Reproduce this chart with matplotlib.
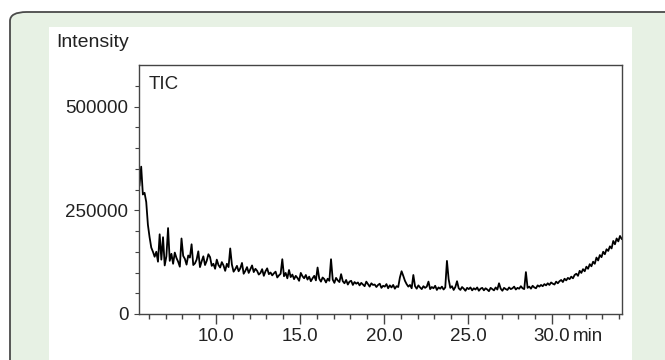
import numpy as np
import matplotlib
matplotlib.use("Agg")
import matplotlib.pyplot as plt
from matplotlib.patches import FancyBboxPatch, Rectangle

plt.rcParams['font.family'] = ['Liberation Sans', 'DejaVu Sans']

# scan times (min): one scan every 0.1 min starting at 5.45
t_start = 5.45
t_step = 0.1

# TIC intensity, in thousands, 10 scans per row
tic_k = [
    310, 355, 288, 292, 270, 215, 185, 160, 150, 138,
    150, 126, 192, 131, 185, 117, 139, 207, 128, 145,
    121, 148, 135, 126, 114, 182, 140, 133, 119, 141,
    136, 168, 118, 122, 131, 151, 113, 127, 139, 118,
    128, 144, 137, 116, 121, 109, 131, 118, 112, 125,
    117, 104, 121, 113, 158, 119, 102, 108, 116, 103,
    110, 123, 97, 104, 113, 99, 108, 117, 101, 109,
    104, 95, 99, 108, 92, 103, 110, 96, 100, 93,
    98, 102, 88, 93, 97, 132, 91, 99, 86, 106,
    89, 95, 84, 92, 87, 80, 99, 91, 86, 94,
    83, 90, 79, 86, 92, 81, 112, 85, 78, 88,
    84, 76, 85, 80, 132, 83, 75, 87, 81, 77,
    96, 79, 74, 82, 71, 78, 80, 70, 77, 73,
    76, 69, 75, 71, 67, 78, 72, 66, 74, 70,
    71, 65, 70, 73, 63, 68, 66, 72, 62, 69,
    64, 70, 61, 67, 65, 88, 103, 92, 80, 72,
    66, 70, 62, 94, 67, 61, 69, 64, 60, 67,
    63, 66, 78, 60, 65, 62, 68, 58, 64, 61,
    66, 59, 64, 128, 84, 63, 67, 58, 65, 79,
    62, 58, 65, 61, 56, 63, 60, 64, 57, 62,
    59, 64, 56, 61, 63, 57, 62, 59, 55, 63,
    60, 57, 64, 59, 74, 61, 56, 63, 60, 58,
    64, 60, 62, 66, 59, 63, 61, 67, 62, 60,
    101, 63, 66, 61, 68, 64, 62, 69, 66, 70,
    67, 72, 69, 74, 70, 76, 73, 71, 78, 74,
    79, 82, 77, 85, 81, 87, 84, 90, 86, 94,
    97, 92, 104, 99, 108, 103, 114, 109, 120, 115,
    126, 121, 136, 129, 142, 137, 150, 144, 156, 152,
    163, 158, 176, 168, 182, 175, 188, 181,
]

x_major = [10, 15, 20, 25, 30]
x_labels = ["10.0", "15.0", "20.0", "25.0", "30.0"]
y_major = [0, 250000, 500000]
y_labels = ["0", "250000", "500000"]

times = t_start + t_step * np.arange(len(tic_k))
tic = np.array(tic_k) * 1000.0

W, H = 665, 360
fig = plt.figure(figsize=(W / 100, H / 100), dpi=100)
fig.patch.set_facecolor("white")

# green frame with rounded corner, white panel inside
frame = FancyBboxPatch((10 / W, -0.2), 1.2, 1 - 12 / H + 0.2,
                       boxstyle="round,pad=0,rounding_size=0.025",
                       transform=fig.transFigure, facecolor="#e7f1e4",
                       edgecolor="#4a4a4a", linewidth=1.3, zorder=-3)
fig.patches.append(frame)
panel = Rectangle((49 / W, 0), (632 - 49) / W, 1 - 27 / H,
                  transform=fig.transFigure, facecolor="white",
                  edgecolor="none", zorder=-2)
fig.patches.append(panel)

ax = fig.add_axes([139 / W, 1 - 314 / H, (622 - 139) / W, (314 - 65) / H])
ax.set_zorder(1)
ax.set_facecolor("white")
ax.plot(times, tic, color="black", linewidth=1.3)

ax.set_xlim(5.42, 34.17)
ax.set_ylim(0, 600000)

ax.set_xticks(x_major)
ax.set_xticklabels(x_labels)
ax.set_xticks(np.arange(6, 35), minor=True)
ax.set_yticks(y_major)
ax.set_yticklabels(y_labels)
ax.set_yticks(np.arange(0, 600000, 50000), minor=True)

for s in ax.spines.values():
    s.set_color("#444444")
    s.set_linewidth(1.0)

ax.tick_params(axis="x", which="major", length=7.2, width=1.0, pad=3,
               labelsize=13.5, colors="#444444", labelcolor="#222222")
ax.tick_params(axis="x", which="minor", length=3.6, width=1.0, colors="#444444")
ax.tick_params(axis="y", which="major", length=3.6, width=0.8, pad=4,
               labelsize=13.5, colors="#444444", labelcolor="#222222")
ax.tick_params(axis="y", which="minor", length=3.0, width=0.8, colors="#444444")

ax.annotate("min", xy=(31.25, 0), xycoords=("data", "axes fraction"),
            xytext=(0, -10.2), textcoords="offset points",
            ha="left", va="top", fontsize=13.5, color="#222222")

ax.text(10 / (622 - 139), (314 - 89) / (314 - 65), "TIC", transform=ax.transAxes,
        ha="left", va="baseline", fontsize=13.5, color="#222222")
fig.text(56 / W, 1 - 47 / H, "Intensity", ha="left", va="baseline",
         fontsize=14, color="#222222")

fig.savefig("out.png", dpi=100, facecolor=fig.get_facecolor())
